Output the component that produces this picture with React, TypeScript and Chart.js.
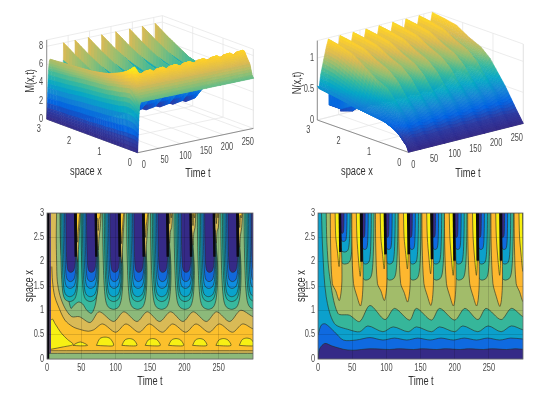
import React, { useEffect, useRef } from "react";
import { Chart, registerables } from "chart.js";
Chart.register(...registerables);

const FONT = "'Liberation Sans',Arial,sans-serif";
const tickTimes = [0, 50, 100, 150, 200, 250];
const tickSpace = [0, 0.5, 1, 1.5, 2, 2.5, 3];

// ---- contour levels of M(x,t) : curves read as [t, x]
const mWaveTop = [[14,3.05],[13.5,2.5],[14,2],[15,1.6],[19,1.3],[26,1.05],[36,.87],[47,.87],[63,.75],[76,.97],[97,.77],[112,.97],[131,.77],[146,.97],[164,.77],[180,.97],[198,.77],[213,.97],[232,.77],[247,.97],[266,.77],[282,1.0],[300,.87]];
const mWaveLow = [[7,1.9],[8,1.6],[11,1.3],[16,1.1],[26,.8],[38,.66],[50,.6],[60,.57],[68,.6],[81,.72],[100,.55],[115,.72],[134,.55],[149,.72],[168,.55],[183,.72],[202,.55],[217,.72],[236,.55],[251,.72],[270,.55],[285,.72],[300,.62]];
const mYellowCorner = [[5.8,.8],[8,.82],[11.6,.73],[21,.53],[30,.4],[38,.3],[24,.25],[5.8,.2]];
const mLensStart = [38,72,109,143,177,212,246,280];
const mLensEnd = [59,97,131,165,199,233,268,302];
const mLensTop = [.35,.45,.42,.42,.42,.42,.42,.43];
const mJumps = [41,71,105,140,175,209,243,277,311];
const mStripTips = [2.0,2.24,1.97,2.1,2.38,2.34,2.38,2.3];
const mFirstTeal = [[19,3.05],[19.5,2.4],[22,2],[26,1.6],[31,1.25],[35,1.04],[39,1.1],[46,1.17],[52,1.13],[58,1.0],[65,.94],[71,1.15],[74,1.6],[73,2.0],[71.5,3.05]];
// level: colour, tip x, centre offset, far-side offset at top, bulge offset, near-side offset at top
const mLevelColors = ["#38b99e","#1bb0ae","#0aa3cc","#0f8ee0","#1168dc","#352a87"];
const mLevelTips = [1.02,1.18,1.28,1.45,1.59,1.78];
const mLevelCentres = [-8,-8,-8,-7.5,-7,-6.5];
const mLevelFar = [-24,-21.5,-19.5,-17.5,-15.5,-13.5];
const mLevelBulge = [5.5,4.5,3.5,2.5,1.5,.8];
const mLevelNear = [.5,.3,.1,0,0,-.3];

// ---- contour levels of N(x,t)
const nLineA = [[0,0],[2.4,.21],[10,.32],[20,.27],[37,.2],[51,.18],[76,.21],[105,.195],[118,.21],[140,.195],[152,.21],[174,.195],[186,.21],[208,.195],[220,.21],[242,.195],[254,.21],[276,.195],[288,.21],[300,.2]];
const nLineB = [[0,.5],[5,.7],[11,.72],[24,.56],[37,.39],[56,.39],[76,.44],[95,.39],[112,.43],[130,.39],[146,.43],[164,.39],[180,.43],[198,.39],[214,.43],[232,.39],[248,.43],[266,.39],[282,.43],[300,.41]];
const nLineC = [[5,3.05],[7,2.2],[12,1.28],[24,.73],[46,.6],[61,.56],[73,.68],[95,.56],[110,.66],[132,.56],[144,.66],[166,.56],[178,.66],[200,.56],[212,.68],[234,.56],[249,.68],[268,.56],[283,.68],[300,.6]];
const nLineD = [[12,3.05],[13,2.4],[17,1.7],[29,.94],[46,.9],[61,.77],[76,1.1],[98,.81],[112,1.04],[134,.8],[144,1.04],[166,.8],[178,1.04],[200,.8],[215,1.04],[234,.81],[246,1.04],[268,.81],[283,1.04],[300,.87]];
const nJumps = [32,63,98,132,166,199,233,267,301];
const nOrangeTips = [1.2,1.09,1.2,1.17,1.1,1.09,1.09,1.08,1.18];
const nYellowTips = [1.9,1.7,1.85,1.85,1.75,1.72,1.72,1.72,1.8];
const nLevelColors = ["#36b69a","#0ca0cc","#0f6ae0","#352a87"];
const nLevelTips = [1.62,1.95,2.25,2.5];
const nLevelCentres = [-7,-6.5,-5.5,-3.5];
const nLevelFar = [-19,-15,-10.5,-6];
const nLevelBulge = [.5,0,-.5,-.8];
const nLevelNear = [0,0,0,0];

// ---- surface tables: rows are space x, columns are time
const mRows = [0,.05,.12,.2,.3,.45,.65,.85,1.05,1.3,1.6,1.9,2.3,2.6,3];
const mFirstT = [0,1,2.5,4,6,8,14,19,24,29,35,38];
const mFirstZ = [
 [0,1.5,3.5,5,5.4,5.5,5.5,5.5,5.5,5.5,5.5,5.5],
 [0,1.6,3.8,5.2,5.7,5.8,5.8,5.8,5.8,5.8,5.8,5.8],
 [0,1.7,4.2,5.8,6.7,6.9,6.9,6.9,6.9,6.9,6.9,6.9],
 [0,1.7,4.4,6.2,7.4,7.7,7.5,7.4,7.3,7.3,7.3,7.3],
 [0,1.7,4.5,6.6,8.2,8.8,8.9,8.5,8.1,8,8,7.9],
 [0,1.7,4.5,6.5,7.9,8.3,8.4,8.1,7.8,7.7,7.6,7.6],
 [0,1.6,4.3,6.3,7.5,7.9,7.8,7.5,7.2,7,6.9,6.9],
 [0,1.6,4.2,6.2,7.3,7.6,7.3,6.9,6.6,6.3,6.1,6],
 [0,1.5,4.1,6,7.1,7.3,6.9,6.3,5.9,5.5,5.3,5.3],
 [0,1.5,4,5.9,6.9,7.1,6.5,5.8,5,4.6,4.2,4.7],
 [0,1.4,3.9,5.8,6.8,6.9,6.2,5.3,4.3,3.3,2.8,3.6],
 [0,1.4,3.8,5.7,6.7,6.8,5.9,5,3.8,2.2,1.2,1.8],
 [0,1.3,3.6,5.5,6.5,6.7,5.7,4.9,3.3,1.2,.7,.8],
 [0,1.3,3.5,5.4,6.4,6.6,5.7,4.8,3.1,1,.5,.5],
 [0,1.2,3.4,5.3,6.3,6.5,5.6,4.7,2.9,.9,.4,.3],
];
const mCycleD = [.3,4,10,15,20,27,33];
const mCycleZ = [
 [5.5,5.5,5.5,5.5,5.5,5.5,5.5],
 [5.8,5.8,5.8,5.8,5.8,5.8,5.8],
 [6.9,6.9,6.9,6.9,6.9,6.9,6.9],
 [7.4,7.4,7.45,7.45,7.4,7.35,7.35],
 [7.9,8,8.2,8.25,8.1,7.9,7.9],
 [7.7,7.7,7.9,7.85,7.7,7.5,7.6],
 [6.9,7,7.05,6.9,6.7,6.5,6.6],
 [5.9,6.1,6,5.8,5.7,5.6,5.7],
 [5.3,5.4,5.3,5.1,5,4.9,4.95],
 [5.2,5.2,5,4.7,4.2,3.2,3.6],
 [5.4,5.3,4.9,4.4,3.4,1.6,2.5],
 [5.7,5.5,5,4.2,3,.85,1.4],
 [6.5,6.1,5,3.8,2.4,.7,.7],
 [7.1,6.4,4.9,3.6,2,.6,.3],
 [8,6.6,4.9,3.5,1.7,.4,.2],
];
const mSurfaceJumps = [39,66,97,128,161,193,223,253];

const nRows = [0,.1,.2,.4,.6,.85,1.1,1.4,1.8,2.2,2.6,3];
const nFirstT = [0,4,8,15,21,26];
const nFirstZ = [
 [0,0,0,0,0,0],
 [.16,.07,.05,.06,.08,.08],
 [.2,.12,.1,.12,.15,.16],
 [.28,.24,.19,.24,.28,.3],
 [.34,.29,.27,.31,.38,.46],
 [.37,.34,.32,.38,.52,.6],
 [.38,.36,.38,.46,.6,.74],
 [.4,.38,.45,.55,.7,.88],
 [.43,.4,.55,.68,.88,1.02],
 [.47,.44,.62,.8,1,1.16],
 [.51,.47,.68,.9,1.1,1.22],
 [.55,.5,.72,.95,1.14,1.26],
];
const nCycleD = [.3,3,8,14,20,27,33];
const nCycleZ = [
 [0,0,0,0,0,0,0],
 [.08,.08,.08,.08,.08,.08,.08],
 [.16,.16,.15,.15,.15,.16,.16],
 [.33,.32,.3,.29,.3,.32,.33],
 [.5,.48,.44,.42,.44,.48,.5],
 [.66,.64,.58,.55,.58,.64,.68],
 [.8,.78,.7,.66,.7,.8,.86],
 [.87,.8,.74,.72,.76,.9,.99],
 [.62,.62,.62,.68,.8,.94,1.08],
 [.33,.32,.38,.55,.78,1.02,1.2],
 [.12,.14,.3,.5,.77,1.06,1.24],
 [.05,.1,.27,.48,.75,1.08,1.27],
];
const nSurfaceJumps = [27,54,85,115,146,178,209,240];
const nFirstValleyFloor = 0.2;
const parula = ["#352a87","#2c3aa2","#0363e1","#1485d4","#06a7c6","#38b99e","#92bf73","#d9ba56","#fcce2e","#f9fb0e"];

// ---- helpers
const pt = (p: number[]) => ({ x: p[0], y: p[1] });
const LINE = "rgba(40,45,35,.72)";
function poly(pts: number[][], color: string, line = LINE, tension = 0.3) {
  return { type: "scatter", data: pts.map(pt), showLine: true, pointRadius: 0, tension, fill: "shape", backgroundColor: color, borderColor: line, borderWidth: 0.85, clip: true };
}
function stroke(pts: number[][], color: string, w: number) {
  return { type: "scatter", data: pts.map(pt), showLine: true, pointRadius: 0, fill: false, borderColor: color, borderWidth: w };
}
const fT = [0,.02,.06,.12,.25,.45,.7,1,1.06];
const wFar = [0,.45,.65,.76,.86,.93,.98,1,1];
const wBul = [0,.5,.72,.86,.98,1];
function uShape(J: number, s: number, tip: number, c: number, far: number, bulge: number, near: number) {
  const a: number[][] = [], b: number[][] = [];
  fT.forEach((f, i) => {
    const x = tip + (3 - tip) * f;
    a.push([J + s * (c + (far - c) * wFar[i]), x]);
    let o;
    if (i < wBul.length) o = c + (bulge - c) * wBul[i];
    else o = bulge + (near - bulge) * Math.min(1, (f - .45) / .55);
    b.push([J + s * o, x]);
  });
  return [...a.reverse(), ...b.slice(1)];
}
function mContourSets() {
  const d: any[] = [];
  d.push(poly([[0,3.1],[300,3.1],[300,0],[0,0]], "#8cb97a", "transparent", 0));
  d.push(poly([...mWaveTop,[306,.87],[306,.2],[305,.117],[304,.117],[200,.117],[100,.117],[4,.117],[3,.117],[2,.2],[2,2.9],[3,3.05]], "#d9ba56"));
  d.push(poly([...mWaveLow,[306,.62],[306,.2],[305,.17],[304,.17],[200,.17],[100,.17],[6,.17],[5,.17],[4.5,.25],[4.5,1.8],[5,1.9]], "#fcc02c"));
  d.push(poly(mYellowCorner, "#f7f014"));
  mLensStart.forEach((s, i) => {
    const e = mLensEnd[i], w = e - s, top = mLensTop[i];
    d.push(poly([[s,.28],[s + .2 * w, top - .03],[s + .5 * w, top],[s + .8 * w, top - .03],[e,.28],[s + .5 * w,.27],[s,.28]], "#f7f014"));
  });
  d.push(poly(mFirstTeal, mLevelColors[0]));
  mJumps.forEach((J, j) => {
    mLevelColors.forEach((col, k) => {
      if (j < 2 && k === 0) return;
      d.push(poly(uShape(J, 1, mLevelTips[k], mLevelCentres[k], mLevelFar[k], mLevelBulge[k], mLevelNear[k]), col));
    });
  });
  mStripTips.forEach((tip, i) => {
    const J = mJumps[i];
    d.push(poly([[J+.8,3.05],[J+1.3,2.7],[J+2.3,tip+.25],[J+3.6,tip],[J+4.8,tip+.25],[J+6.5,2.7],[J+8,3.05]], "#d9ba56"));
    d.push(poly([[J+.8,3.05],[J+1.3,2.9],[J+2.5,tip+.65],[J+3.6,tip+.4],[J+4.7,tip+.65],[J+6,2.9],[J+7.3,3.05]], "#fcc62b"));
    d.push(stroke([[J,3],[J+.8,2.1]], "#0a0a10", 2.4));
  });
  d.push(poly([[3.5,3.05],[5.5,3.05],[5.5,.12],[3.5,.12]], "#352a87", "transparent", 0));
  d.push(poly([[0,3.05],[3.5,3.05],[3.5,.12],[3,0],[0,0]], "#05050c", "transparent", 0));
  return d;
}
function nContourSets() {
  const d: any[] = [];
  const close = (l: number[][]) => [...l, [306, l[l.length - 1][1]], [306, -.4], [-3, -.4], [-3, 3.05]];
  d.push(poly([[0,3.1],[300,3.1],[300,0],[0,0]], "#a2bc6a", "transparent", 0));
  d.push(poly(close(nLineD), "#36b69a"));
  d.push(poly(close(nLineC), "#0ca0cc"));
  d.push(poly([...nLineB,[306,.41],[306,-.4],[-3,-.4],[-3,.4]], "#0f6ae0"));
  d.push(poly([...nLineA,[306,.2],[306,-.4],[0,-.4]], "#352a87"));
  nJumps.forEach((J, j) => {
    const shift = j === 0 ? .33 : 0;
    nLevelColors.forEach((col, k) => {
      d.push(poly(uShape(J, -1, nLevelTips[k] + shift * (1 - k / 4), nLevelCentres[k], nLevelFar[k], nLevelBulge[k], nLevelNear[k]), col));
    });
    const tip = nOrangeTips[j], yt = nYellowTips[j];
    d.push(poly([[J-14,3.05],[J-13.5,2.3],[J-11,1.55],[J-6,tip+.2],[J-1,tip],[J+1.5,tip+.14],[J+3,1.6],[J+2.5,2.2],[J+1,2.6],[J,3.05]], "#fdb72f"));
    d.push(poly([[J-7,3.05],[J-6,2.5],[J-3.5,yt+.3],[J-1.2,yt],[J,yt+.25],[J+.3,2.6],[J,3.05]], "#f7f00f"));
    d.push(stroke([[J,3],[J+.8,yt+.3]], "#0a0a10", 2.6));
  });
  return d;
}
function buildField(rows: number[], firstT: number[], firstZ: number[][], cycleD: number[], cycleZ: number[][], jumps: number[], tLimit: number, floor = 0) {
  const ts = [...firstT];
  const zs = rows.map((_, r) => [...firstZ[r]]);
  jumps.forEach((J, k) => {
    const gap = (jumps[k + 1] ?? J + (J - jumps[k - 1])) - J;
    cycleD.forEach((d, c) => {
      const t = J + d * gap / 34;
      if (t > tLimit) return;
      ts.push(t);
      rows.forEach((x, r) => zs[r].push(k === 0 && x >= 1.8 ? Math.max(floor, cycleZ[r][c]) : cycleZ[r][c]));
    });
  });
  return { ts, zs };
}
function hexRgb(h: string) { return [1, 3, 5].map((i) => parseInt(h.slice(i, i + 2), 16)); }
const paruRgb = parula.map(hexRgb);
function colormap(v: number) {
  const u = Math.max(0, Math.min(.9999, v)) * (paruRgb.length - 1);
  const i = Math.floor(u), f = u - i, a = paruRgb[i], b = paruRgb[i + 1];
  return `rgb(${a.map((q, n) => Math.round(q + (b[n] - q) * f)).join(",")})`;
}
function squeezed(c: any, s: string, px: number, py: number, size: number, col: string, align: string, rot = false) {
  c.save(); c.translate(px, py); if (rot) c.rotate(-Math.PI / 2); c.scale(.74, 1);
  c.font = `${size}px ${FONT}`; c.fillStyle = col; c.textAlign = align; c.textBaseline = "middle"; c.fillText(s, 0, 0); c.restore();
}
type Panel3D = {
  O: number[]; ax: number[]; at: number[]; az: number; zTop: number; zMax: number; rows: number[]; field: { ts: number[]; zs: number[][] };
  zTicks: number[]; xTicks: number[]; tTicks: number[]; xOff: number[]; tOff: number[]; zLabelX: number;
  titles: { text: string; x: number; y: number; rot?: boolean }[];
};
function make3D(canvas: HTMLCanvasElement, P: Panel3D) {
  const proj = (x: number, t: number, z: number) => ({ x: P.O[0] + x * P.ax[0] + t * P.at[0], y: P.O[1] + x * P.ax[1] + t * P.at[1] + z * P.az });
  const line = (a: number[], b: number[], col: string, w = .7) => ({ type: "scatter", showLine: true, pointRadius: 0, borderColor: col, borderWidth: w, fill: false, data: [proj(a[0], a[1], a[2]), proj(b[0], b[1], b[2])] });
  const g = "#e4e4e4", dark = "#666", T = 270, X = 3;
  const sets: any[] = [];
  P.xTicks.forEach((x) => { sets.push(line([x, 0, 0], [x, T, 0], g)); sets.push(line([x, T, 0], [x, T, P.zTop], g)); });
  P.tTicks.forEach((t) => { sets.push(line([0, t, 0], [X, t, 0], g)); sets.push(line([X, t, 0], [X, t, P.zTop], g)); });
  P.zTicks.forEach((z) => { sets.push(line([0, T, z], [X, T, z], g)); sets.push(line([X, T, z], [X, 0, z], g)); });
  sets.push(line([X, 0, P.zTop], [X, T, P.zTop], g));
  sets.push(line([X, T, P.zTop], [0, T, P.zTop], g));
  sets.push(line([0, T, 0], [0, T, P.zTop], g));
  sets.push(line([0, 0, 0], [X, 0, 0], dark));
  sets.push(line([0, 0, 0], [0, T, 0], dark));
  sets.push(line([X, 0, 0], [X, 0, P.zTop], dark));
  const { ts, zs } = P.field;
  const verts: any[] = [];
  P.rows.forEach((x, r) => ts.forEach((t, c) => verts.push(proj(x, t, zs[r][c]))));
  const surfaceSet = { type: "scatter", data: verts, showLine: false, pointRadius: 0 };
  const S = 4;
  const plugin = {
    id: "surface3d",
    afterDatasetsDraw(ch: any) {
      const c = ch.ctx, sx = ch.scales.x, sy = ch.scales.y;
      const px = (x: number, t: number, z: number) => { const q = proj(x, t, z); return [sx.getPixelForValue(q.x), sy.getPixelForValue(q.y)]; };
      c.save(); c.lineWidth = .6;
      for (let r = P.rows.length - 2; r >= 0; r--) for (let k = ts.length - 2; k >= 0; k--) {
        for (let a = S - 1; a >= 0; a--) for (let b = S - 1; b >= 0; b--) {
          const at = (u: number, v: number) => {
            const x = P.rows[r] + (P.rows[r + 1] - P.rows[r]) * u, t = ts[k] + (ts[k + 1] - ts[k]) * v;
            const z = (zs[r][k] * (1 - u) + zs[r + 1][k] * u) * (1 - v) + (zs[r][k + 1] * (1 - u) + zs[r + 1][k + 1] * u) * v;
            return { p: px(x, t, z), z };
          };
          const A = at(a / S, b / S), B = at((a + 1) / S, b / S), C = at((a + 1) / S, (b + 1) / S), D = at(a / S, (b + 1) / S);
          const col = colormap((A.z + B.z + C.z + D.z) / 4 / P.zMax);
          c.fillStyle = col; c.strokeStyle = col;
          c.beginPath(); c.moveTo(A.p[0], A.p[1]); c.lineTo(B.p[0], B.p[1]); c.lineTo(C.p[0], C.p[1]); c.lineTo(D.p[0], D.p[1]); c.closePath(); c.fill(); c.stroke();
        }
      }
      c.restore();
    },
    afterDraw(ch: any) {
      const c = ch.ctx, sx = ch.scales.x, sy = ch.scales.y;
      const put = (s: string, q: { x: number; y: number }, size: number, col: string, align = "center", rot = false) =>
        squeezed(c, s, sx.getPixelForValue(q.x), sy.getPixelForValue(q.y), size, col, align, rot);
      const col = "#4a4a4a";
      P.xTicks.forEach((x) => { const q = proj(x, 0, 0); put(String(x), { x: q.x + P.xOff[0], y: q.y + P.xOff[1] }, 10, col); });
      P.tTicks.forEach((t) => { const q = proj(0, t, 0); put(String(t), { x: q.x + P.tOff[0] - t * .012, y: q.y + P.tOff[1] }, 10, col); });
      P.zTicks.forEach((z) => { const q = proj(X, 0, z); put(String(z), { x: P.zLabelX, y: q.y }, 10, col, "right"); });
      P.titles.forEach((t) => put(t.text, t, 12.5, "#333", "center", !!t.rot));
    },
  };
  return new Chart(canvas, {
    type: "scatter",
    data: { datasets: sets.concat(surfaceSet).reverse() },
    options: {
      animation: false, responsive: false, layout: { padding: 0 },
      plugins: { legend: { display: false }, tooltip: { enabled: false } },
      scales: { x: { type: "linear", display: false, min: 0, max: canvas.width }, y: { type: "linear", display: false, min: 0, max: canvas.height, reverse: true } },
    },
    plugins: [plugin],
  } as any);
}
function makeContour(canvas: HTMLCanvasElement, sets: any[], left: number, right: number, xTitle: number[], yTitle: number[]) {
  const deco = {
    id: "deco",
    afterDraw(ch: any) {
      const a = ch.chartArea, c = ch.ctx, col = "#4a4a4a";
      c.save(); c.strokeStyle = "#666"; c.lineWidth = .8; c.strokeRect(a.left, a.top, a.right - a.left, a.bottom - a.top); c.restore();
      tickTimes.forEach((t) => squeezed(c, String(t), ch.scales.x.getPixelForValue(t), a.bottom + 9, 10, col, "center"));
      tickSpace.forEach((x) => squeezed(c, String(x), a.left - 3, ch.scales.y.getPixelForValue(x), 10, col, "right"));
      squeezed(c, "Time t", xTitle[0], xTitle[1], 12.5, "#333", "center");
      squeezed(c, "space x", yTitle[0], yTitle[1], 12.5, "#333", "center", true);
    },
  };
  const common = { type: "linear", grid: { z: 1, color: "rgba(0,0,0,.13)", drawTicks: false }, border: { display: false }, ticks: { display: false }, title: { display: false } };
  return new Chart(canvas, {
    type: "scatter",
    data: { datasets: sets.slice().reverse() },
    options: {
      animation: false, responsive: false,
      layout: { padding: { top: 13, right, left, bottom: 36 } },
      plugins: { legend: { display: false }, tooltip: { enabled: false } },
      scales: {
        x: { ...common, min: 0, max: 300, afterBuildTicks: (s: any) => { s.ticks = tickTimes.map((value) => ({ value })); } },
        y: { ...common, min: 0, max: 3, afterBuildTicks: (s: any) => { s.ticks = tickSpace.map((value) => ({ value })); } },
      },
    },
    plugins: [deco],
  } as any);
}

export default function App() {
  const a = useRef<HTMLCanvasElement>(null), b = useRef<HTMLCanvasElement>(null), c = useRef<HTMLCanvasElement>(null), d = useRef<HTMLCanvasElement>(null);
  useEffect(() => {
    const charts = [
      make3D(a.current!, {
        O: [137.7, 152.7], ax: [-30.33, -11.2], at: [.4284, -.09], az: -9.1, zTop: 8.7, zMax: 9, rows: mRows,
        field: buildField(mRows, mFirstT, mFirstZ, mCycleD, mCycleZ, mSurfaceJumps, 271),
        zTicks: [0, 2, 4, 6, 8], xTicks: [0, 1, 2, 3], tTicks: [0, 50, 100, 150, 200, 250],
        xOff: [-8, 10.5], tOff: [6, 12.5], zLabelX: 43,
        titles: [{ text: "space x", x: 86, y: 172 }, { text: "Time t", x: 198, y: 174 }, { text: "M(x,t)", x: 31, y: 81, rot: true }],
      }),
      make3D(b.current!, {
        O: [128.3, 152.3], ax: [-30.33, -10.77], at: [.426, -.107], az: -62, zTop: 1.28, zMax: 1.36, rows: nRows,
        field: buildField(nRows, nFirstT, nFirstZ, nCycleD, nCycleZ, nSurfaceJumps, 271, nFirstValleyFloor),
        zTicks: [0, .5, 1], xTicks: [0, 1, 2, 3], tTicks: [0, 50, 100, 150, 200, 250],
        xOff: [-9, 10.5], tOff: [5, 12.5], zLabelX: 34,
        titles: [{ text: "space x", x: 77, y: 172 }, { text: "Time t", x: 188, y: 174 }, { text: "N(x,t)", x: 18, y: 83, rot: true }],
      }),
      makeContour(c.current!, mContourSets(), 47, 27, [150, 182], [30, 86]),
      makeContour(d.current!, nContourSets(), 38, 37, [141, 182], [22, 86]),
    ];
    return () => charts.forEach((x) => x.destroy());
  }, []);
  const st = (left: number, top: number): React.CSSProperties => ({ position: "absolute", left, top, filter: "blur(0.4px)" });
  return (
    <div style={{ position: "absolute", left: 0, top: 0, width: 560, height: 395, background: "#fff", overflow: "hidden" }}>
      <canvas ref={a} width={280} height={197} style={st(0, 0)} />
      <canvas ref={b} width={280} height={197} style={st(280, 0)} />
      <canvas ref={c} width={280} height={195} style={st(0, 200)} />
      <canvas ref={d} width={280} height={195} style={st(280, 200)} />
    </div>
  );
}
